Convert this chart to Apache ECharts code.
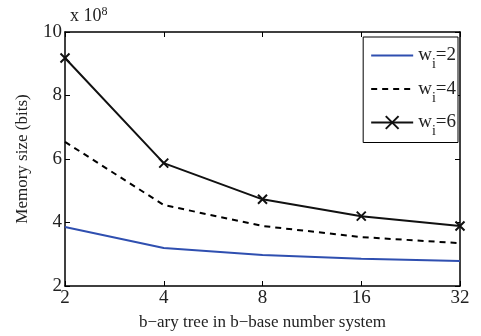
<!DOCTYPE html>
<html>
<head>
<meta charset="utf-8">
<script src="https://cdn.jsdelivr.net/npm/echarts@6/dist/echarts.min.js"></script>
<style>
  html, body { margin: 0; padding: 0; background: #fff; }
  #chart { width: 481px; height: 336px; }
</style>
</head>
<body>
<div id="chart"></div>
<script>
const categories = ['2', '4', '8', '16', '32'];
const w2 = [3.86, 3.2, 2.98, 2.86, 2.79];
const w4 = [6.54, 4.55, 3.89, 3.54, 3.35];
const w6 = [9.18, 5.87, 4.73, 4.2, 3.89];

const font = 'Liberation Serif';
const crossPath = 'path://M0,0 L10,10 M10,0 L0,10';

function legendLabel(name) {
    // name like "w_i=2"
    const v = name.split('=')[1];
    return '{a|w}{b|i}{a|=' + v + '}';
}

const chart = echarts.init(document.getElementById('chart'));

const options = {
    animation: false,
    textStyle: { fontFamily: font, color: '#000' },
    grid: { left: 65, right: 21, top: 32, bottom: 50 },
    legend: {
        orient: 'vertical',
        right: 23,
        top: 37,
        itemWidth: 42,
        itemHeight: 16,
        itemGap: 8,
        padding: [9, 2, 4, 7],
        backgroundColor: '#fff',
        borderColor: '#000',
        borderWidth: 1,
        borderRadius: 0,
        formatter: legendLabel,
        textStyle: {
            rich: {
                a: { fontFamily: font, fontSize: 19, color: '#222' },
                b: { fontFamily: font, fontSize: 14, color: '#222', padding: [18, 0, 0, 0] }
            }
        },
        data: [
            { name: 'w_i=2', itemStyle: { opacity: 0 } },
            { name: 'w_i=4', itemStyle: { opacity: 0 } },
            { name: 'w_i=6' }
        ]
    },
    graphic: [{
        type: 'text',
        left: 70,
        top: 6,
        style: {
            text: '{a|x 10}{s|8}',
            rich: {
                a: { fontFamily: font, fontSize: 18, fill: '#222', padding: [8, 0, 0, 0] },
                s: { fontFamily: font, fontSize: 12, fill: '#222' }
            }
        }
    }],
    xAxis: [{
        type: 'category',
        data: categories,
        boundaryGap: false,
        name: 'b\u2212ary tree in b\u2212base number system',
        nameLocation: 'middle',
        nameGap: 28,
        nameTextStyle: { fontFamily: font, fontSize: 17, color: '#222' },
        axisLine: { lineStyle: { color: '#000', width: 1.5 } },
        axisTick: { inside: true, length: 5, lineStyle: { color: '#000' } },
        axisLabel: { fontFamily: font, fontSize: 19, color: '#222', margin: 3 },
        splitLine: { show: false }
    }, {
        type: 'category',
        data: categories,
        boundaryGap: false,
        position: 'top',
        axisLine: { lineStyle: { color: '#000', width: 1.5 } },
        axisTick: { inside: true, length: 5, lineStyle: { color: '#000' } },
        axisLabel: { show: false },
        splitLine: { show: false }
    }],
    yAxis: [{
        type: 'value',
        min: 2,
        max: 10,
        interval: 2,
        name: 'Memory size (bits)',
        nameLocation: 'middle',
        nameGap: 34,
        nameTextStyle: { fontFamily: font, fontSize: 17, color: '#222' },
        axisLine: { show: true, lineStyle: { color: '#000', width: 1.5 } },
        axisTick: { show: true, inside: true, length: 5, lineStyle: { color: '#000' } },
        axisLabel: { fontFamily: font, fontSize: 19, color: '#222', margin: 3 },
        splitLine: { show: false }
    }, {
        type: 'value',
        min: 2,
        max: 10,
        interval: 2,
        position: 'right',
        axisLine: { show: true, lineStyle: { color: '#000', width: 1.5 } },
        axisTick: { show: true, inside: true, length: 5, lineStyle: { color: '#000' } },
        axisLabel: { show: false },
        splitLine: { show: false }
    }],
    series: [
        {
            name: 'w_i=2',
            type: 'line',
            data: w2,
            symbol: 'none',
            lineStyle: { color: '#2f4fb0', width: 2 },
            itemStyle: { color: '#2f4fb0' }
        },
        {
            name: 'w_i=4',
            type: 'line',
            data: w4,
            symbol: 'none',
            lineStyle: { color: '#000', width: 2, type: [6, 5] },
            itemStyle: { color: '#000' }
        },
        {
            name: 'w_i=6',
            type: 'line',
            data: w6,
            symbol: crossPath,
            symbolSize: 9,
            showAllSymbol: true,
            lineStyle: { color: '#111', width: 2 },
            itemStyle: { color: '#111', borderColor: '#111', borderWidth: 2 }
        }
    ]
};

chart.setOption(options);
</script>
</body>
</html>
